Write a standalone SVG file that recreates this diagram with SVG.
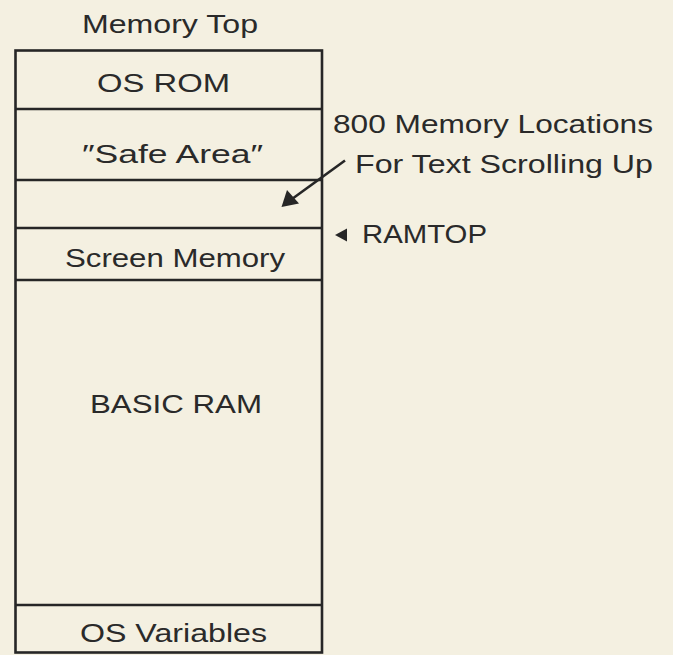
<svg xmlns="http://www.w3.org/2000/svg" width="673" height="655" viewBox="0 0 673 655">
<defs>
<style>
.bg{fill:#f4f0e1}
.box{fill:none;stroke:#262626;stroke-width:2.6}
.t{font-family:"Liberation Sans",Arial,sans-serif;font-size:26px;fill:#2a2a2a}
.ln{stroke:#262626;stroke-width:2.6;fill:none}
.ah{fill:#262626}
</style>
</defs>
<rect class="bg" x="0" y="0" width="673" height="655"/>
<g id="title"><text class="t" x="82" y="33" textLength="176" lengthAdjust="spacingAndGlyphs">Memory Top</text></g>
<g id="memory-map">
<rect class="box" x="15.5" y="50.5" width="306.5" height="602"/>
</g>
<g id="os-rom"><line class="ln" x1="15" y1="109" x2="322" y2="109"/><text class="t" x="97" y="92" textLength="133" lengthAdjust="spacingAndGlyphs">OS ROM</text></g>
<g id="safe-area"><line class="ln" x1="15" y1="180" x2="322" y2="180"/><text class="t" x="82" y="163" textLength="181" lengthAdjust="spacingAndGlyphs">″Safe Area″</text></g>
<g id="scroll-area"><line class="ln" x1="15" y1="228" x2="322" y2="228"/></g>
<g id="screen-memory"><line class="ln" x1="15" y1="280" x2="322" y2="280"/><text class="t" x="65" y="267" textLength="220" lengthAdjust="spacingAndGlyphs">Screen Memory</text></g>
<g id="basic-ram"><text class="t" x="90" y="413" textLength="172" lengthAdjust="spacingAndGlyphs">BASIC RAM</text></g>
<g id="os-variables"><line class="ln" x1="15" y1="605" x2="322" y2="605"/><text class="t" x="80" y="642" textLength="187" lengthAdjust="spacingAndGlyphs">OS Variables</text></g>
<g id="label-800"><text class="t" x="333" y="133" textLength="320" lengthAdjust="spacingAndGlyphs">800 Memory Locations</text><text class="t" x="355" y="173" textLength="298" lengthAdjust="spacingAndGlyphs">For Text Scrolling Up</text></g>
<g id="ramtop"><polygon class="ah" points="335,235 347,228.5 347,241.5"/><text class="t" x="362" y="243" textLength="125" lengthAdjust="spacingAndGlyphs">RAMTOP</text></g>
<g id="connectors">
<line class="ln" x1="345" y1="160.5" x2="292" y2="199"/>
<polygon class="ah" points="281.5,207 287,190 299,203.5"/>
</g>
</svg>
